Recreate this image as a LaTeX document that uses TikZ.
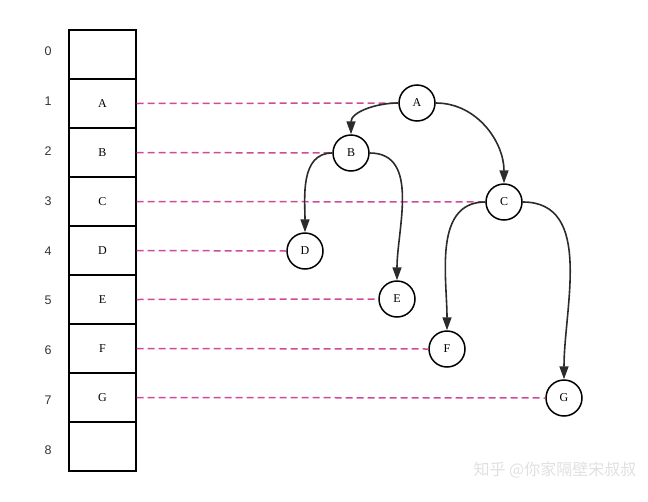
\documentclass[tikz,border=0pt]{standalone}
\usepackage{fontspec}
\setmainfont{Liberation Serif}
\newfontfamily\idxfont{Liberation Sans}
\newfontfamily\cjk{Noto Sans CJK SC}
\usetikzlibrary{arrows.meta}
\definecolor{dashpink}{HTML}{CF4A9A}
\definecolor{edgegray}{HTML}{2B2B2B}
\tikzset{
  cell/.style={draw,line width=1.3pt,minimum width=67pt,minimum height=49pt,inner sep=0pt,font=\fontsize{12}{14}\selectfont},
  idx/.style={font=\idxfont\fontsize{12.5}{14}\selectfont,text=black!80},
  treenode/.style={circle,draw,line width=1.5pt,minimum size=36pt,inner sep=0pt,font=\fontsize{12}{14}\selectfont},
  link/.style={dashpink,line width=1.5pt,dash pattern=on 7pt off 4pt},
  edge/.style={edgegray,line width=1.6pt,-{Triangle[length=13pt,width=9pt]}}
}
\begin{document}
\begin{tikzpicture}[x=1pt,y=-1pt]
  \useasboundingbox (0,0) rectangle (648,501);
  \foreach \i/\t in {0/,1/A,2/B,3/C,4/D,5/E,6/F,7/G,8/} {
    \node[cell] (c\i) at (102.5,54.5+49*\i) {\t};
    \node[idx] (n\i) at (48,51.5+49.8*\i) {\i};
  }
  \node[treenode] (A) at (417,103) {A};
  \node[treenode] (B) at (351,153) {B};
  \node[treenode] (C) at (504,202) {C};
  \node[treenode] (D) at (305,251) {D};
  \node[treenode] (E) at (397,299) {E};
  \node[treenode] (F) at (447,349) {F};
  \node[treenode] (G) at (564,398) {G};
  \draw[link] (c1.east) -- (A.west);
  \draw[link] (c2.east) -- (B.west);
  \draw[link] (c3.east) -- (C.west);
  \draw[link] (c4.east) -- (D.west);
  \draw[link] (c5.east) -- (E.west);
  \draw[link] (c6.east) -- (F.west);
  \draw[link] (c7.east) -- (G.west);
  \draw[edge] (A.west) to[out=180,in=90] (B.north);
  \draw[edge] (A.east) to[out=0,in=90] (C.north);
  \draw[edge] (B.west) to[out=180,in=90] (D.north);
  \draw[edge] (B.east) to[out=0,in=90] (E.north);
  \draw[edge] (C.west) to[out=180,in=90] (F.north);
  \draw[edge] (C.east) to[out=0,in=90] (G.north);
  \node[text=black!12,font=\cjk\fontsize{16}{20}\selectfont] (mark) at (555,470) {知乎 @你家隔壁宋叔叔};
\end{tikzpicture}
\end{document}
